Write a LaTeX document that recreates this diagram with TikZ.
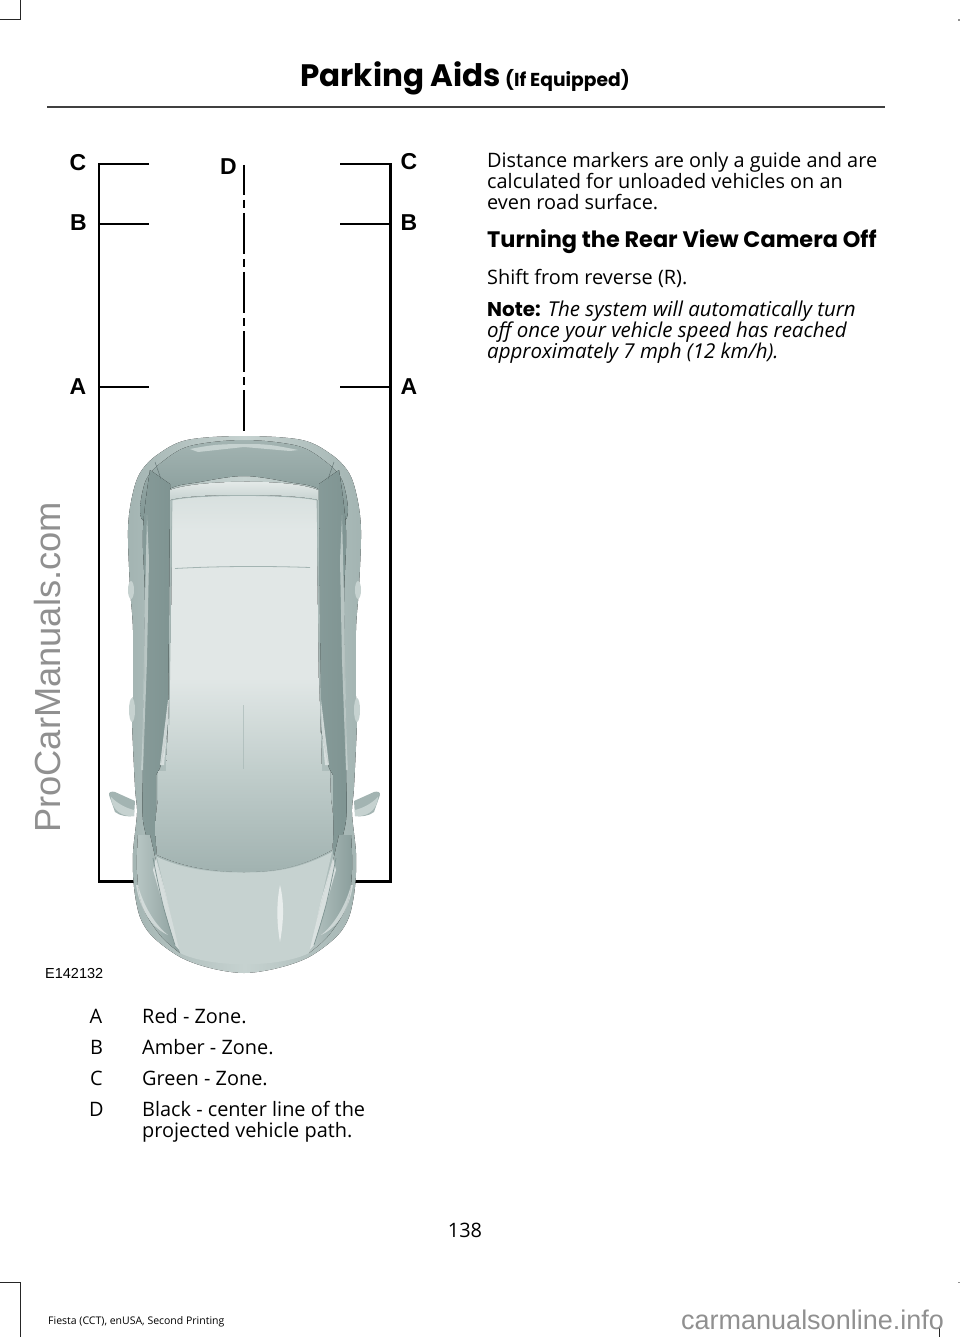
\documentclass[tikz,border=0pt]{standalone}
\usepackage{fontspec}
\setmainfont{Open Sans}
\newfontfamily\arialfont{Liberation Sans}
\newfontfamily\headfont{Poppins}
\usetikzlibrary{calc}
\definecolor{cardark}{HTML}{7F9492}
\definecolor{carmid}{HTML}{A3B4B2}
\definecolor{carlight}{HTML}{C6D2D0}
\definecolor{carpale}{HTML}{E1E7E6}
\definecolor{markgrey}{HTML}{909090}
\tikzset{
  guide/.style={line width=2.4pt,black},
  bodytext/.style={anchor=north west,inner sep=0pt,align=left,font=\fontsize{19.9}{21}\selectfont},
  itemkey/.style={anchor=base,inner sep=0pt,font=\fontsize{19.9}{21}\selectfont},
  zoneletter/.style={inner sep=0pt,font=\arialfont\bfseries\fontsize{23}{23}\selectfont},
  cropmark/.style={line width=1pt,black!85}
}
\newcommand{\carside}{
  \fill[left color=cardark!80!carmid,right color=cardark] plot[smooth,tension=.6] coordinates {(150,470)(143,530)(145,600)(144,700)(143,770)(143,820)(152,854)} -- (156,854) -- (156,775) -- (160,768) -- (168,730) -- (170,500) -- (170,484) -- cycle;
  \fill[carlight,opacity=.8] plot[smooth,tension=.6] coordinates {(147,515)(145,600)(143,720)(141,770)} -- (143,770) -- (147,660) -- (149,560) -- cycle;
  \fill[carpale,opacity=.8] (168,700) -- (160,765) -- (164,765) -- (170,700) -- cycle;
  \draw[cardark!80!black,line width=.5pt] (155,462) -- (161,479);
  \fill[carmid] (115,812) -- (109,795) .. controls (108,792) and (112,791) .. (115,792) -- (135,801) -- (134,816) .. controls (128,817) and (120,816) .. (115,812) -- cycle;
  \fill[carlight] (111,797) .. controls (118,804) and (126,808) .. (134,810) -- (134,816) .. controls (124,817) and (112,812) .. (111,797) -- cycle;
  \fill[carlight] (131,590) ellipse (3pt and 9pt);
  \fill[carlight] (132,710) ellipse (3pt and 12pt);
  \fill[left color=carlight!60!carmid,right color=cardark!70!carmid] plot[smooth,tension=.6] coordinates {(138,835)(137,870)(142,905)(160,935)(180,953)} -- (181,952) -- (155,857) -- (150,835) -- cycle;
  \fill[carpale,opacity=.85] plot[smooth,tension=.6] coordinates {(156,858)(165,890)(176,925)(181,952)} -- (175,945) -- (163,905) -- (153,870) -- cycle;
  \draw[cardark,line width=.7pt] plot[smooth,tension=.6] coordinates {(153,858)(163,905)(175,945)};
  \fill[carpale,opacity=.7] (138,885) .. controls (143,905) and (155,925) .. (168,935) .. controls (152,928) and (140,910) .. (136,885) -- cycle;
  \fill[white,opacity=.6] (203,883) .. controls (208,900) and (207,920) .. (205,935) .. controls (201,920) and (200,900) .. (203,883) -- cycle;
}
\begin{document}
\begin{tikzpicture}[x=1pt,y=-1pt]
  \useasboundingbox (0,0) rectangle (960,1337);
  \draw[cropmark] (20,0) -- (20,20) -- (0,20);
  \draw[cropmark] (0,1282) -- (20,1282) -- (20,1337);
  \draw[cropmark] (939,1328) -- (939,1337);
  \fill[markgrey] (958,19.5) rectangle (960,21);
  \fill[markgrey] (958,1281.5) rectangle (960,1283);
  \draw[line width=2pt,black!75] (47,107) -- (885,107);
  \node[anchor=base,inner sep=0pt](title)at(465,87){\headfont\bfseries\fontsize{31}{31}\selectfont Parking Aids\fontsize{18.7}{19}\selectfont\ (If Equipped)};
  \node[anchor=base west,rotate=90,inner sep=0pt,text=markgrey,font=\arialfont\fontsize{36.3}{37}\selectfont](sitename)at(60,833){ProCarManuals.com};
  \node[anchor=base west,inner sep=0pt,text=markgrey,font=\arialfont\fontsize{27}{28}\selectfont](siteinfo)at(681,1329){carmanualsonline.info};
  \draw[guide,line cap=butt] (149,164) -- (99,164) -- (99,881.5) -- (140,881.5);
  \draw[guide] (340,164) -- (390.5,164) -- (390.5,881.5) -- (350,881.5);
  \draw[guide,line width=2pt] (99,224) -- (149,224);
  \draw[guide,line width=2pt] (99,387) -- (149,387);
  \draw[guide,line width=2pt] (340,224) -- (390,224);
  \draw[guide,line width=2pt] (340,387) -- (390,387);
  \draw[guide,dash pattern=on 41pt off 5pt on 8pt off 5pt,dash phase=11pt] (244,165) -- (244,431);
  \node[zoneletter](letterCl)at(78,163){C};
  \node[zoneletter](letterBl)at(78.5,223){B};
  \node[zoneletter](letterAl)at(78,387){A};
  \node[zoneletter](letterD)at(228.5,167){D};
  \node[zoneletter](letterCr)at(409,162){C};
  \node[zoneletter](letterBr)at(409,223){B};
  \node[zoneletter](letterAr)at(409,387){A};
  \fill[left color=carmid,right color=carmid,middle color=carlight] plot[smooth cycle,tension=.55] coordinates {(244,436)(187,440)(157,455)(140,473)(132,497)(128,530)(130,587)(133,630)(133,697)(132,720)(135,787)(137,813)(133,853)(134,887)(140,917)(153,937)(180,957)(210,968)(244,973)(278,968)(309,957)(336,937)(349,917)(355,887)(356,853)(352,813)(354,787)(357,720)(356,697)(356,630)(359,587)(361,530)(357,497)(349,473)(332,455)(302,440)};
  \fill[top color=carmid,bottom color=cardark] plot[smooth cycle,tension=.55] coordinates {(244,440)(190,446)(162,462)(146,480)(140,510)(146,520)(168,490)(200,482)(244,476)(288,482)(320,490)(342,520)(348,510)(342,480)(326,462)(298,446)};
  \fill[carlight] plot[smooth,tension=.6] coordinates {(190,449)(215,445)(244,444)(270,445)(298,450)} -- (290,451) -- (244,447) -- (198,452) -- cycle;
  \carside
  \begin{scope}[shift={(489,0)},xscale=-1]
    \carside
  \end{scope}
  \fill[top color=carpale!70!white,bottom color=carlight] (170,490) .. controls (195,480) and (290,478) .. (318,490) -- (318,500) .. controls (290,493) and (195,493) .. (170,500) -- cycle;
  \fill[top color=carlight!70!white,bottom color=carpale] (172,500) .. controls (195,494) and (290,494) .. (317,500) -- (317,530) -- (172,530) -- cycle;
  \fill[carpale] (172,529) -- (317,529) -- (317,570) -- (172,570) -- cycle;
  \fill[top color=carpale,middle color=white!65!carpale,bottom color=carpale] (172,548) -- (317,548) -- (319,700) -- (170,700) -- cycle;
  \fill[top color=carpale,bottom color=carlight!85!carmid] (170,678) -- (319,678) -- (322,772) -- (166,772) -- cycle;
  \fill[top color=carlight!85!carmid,middle color=carmid,bottom color=carmid!95!cardark] (158,771) -- (330,771) -- (331,800) .. controls (334,815) and (334,835) .. (332,850) .. controls (300,868) and (275,872) .. (244,872) .. controls (215,872) and (185,868) .. (157,855) .. controls (155,835) and (155,815) .. (158,800) -- cycle;
  \fill[carlight] (157,857) .. controls (185,870) and (215,873) .. (244,873) .. controls (275,873) and (300,869) .. (332,852) -- (309,953) .. controls (280,968) and (210,968) .. (180,953) -- cycle;
  \draw[carmid,line width=.6pt] (157,856) .. controls (185,869) and (215,872) .. (244,872) .. controls (275,872) and (300,868) .. (332,851);
  \fill[white,opacity=.6] (280,885) .. controls (276,905) and (277,925) .. (280,942) .. controls (283,925) and (285,905) .. (280,885) -- cycle;
  \draw[carmid,line width=.8pt] (172,500) -- (169,725);
  \draw[carmid,line width=.8pt] (317,500) -- (321,725);
  \draw[carmid,line width=.8pt] (172,500) .. controls (195,494) and (290,494) .. (317,500);
  \draw[carmid,line width=.8pt] (175,568.5) .. controls (220,566) and (270,566) .. (310,567.5);
  \draw[carmid,line width=.7pt,opacity=.6] (243.5,705) -- (243.5,769);
  \node[anchor=base west,inner sep=0pt,font=\arialfont\fontsize{14.5}{15}\selectfont](figcode)at(45,978){E142132};
  \node[itemkey](keyA)at(96,1023){A};
  \node[itemkey](keyB)at(96.5,1054){B};
  \node[itemkey](keyC)at(96.5,1085){C};
  \node[itemkey](keyD)at(96.5,1116){D};
  \node[bodytext](itemA)at(142,1008.5){Red - Zone.};
  \node[bodytext](itemB)at(142,1039.5){Amber - Zone.};
  \node[bodytext](itemC)at(142,1070.5){Green - Zone.};
  \node[bodytext](itemD)at(142,1101.5){Black - center line of the\\projected vehicle path.};
  \node[bodytext](markers)at(487,152){Distance markers are only a guide and are\\calculated for unloaded vehicles on an\\even road surface.};
  \node[anchor=base west,inner sep=0pt,font=\headfont\bfseries\fontsize{22.4}{23}\selectfont](camera)at(487,248){Turning the Rear View Camera Off};
  \node[bodytext](shift)at(487,269){Shift from reverse (R).};
  \node[bodytext,font=\fontsize{20.5}{21}\selectfont\itshape](note)at(487,301){{\headfont\upshape\bfseries\fontsize{19.9}{21}\selectfont Note:} The system will automatically turn\\off once your vehicle speed has reached\\approximately 7 mph (12 km/h).};
  \node[anchor=base,inner sep=0pt,font=\fontsize{19.9}{21}\selectfont](pagenum)at(465,1237){138};
  \node[anchor=base west,inner sep=0pt,font=\fontsize{10.5}{11}\selectfont](footer)at(48,1324){Fiesta (CCT), enUSA, Second Printing};
\end{tikzpicture}
\end{document}
